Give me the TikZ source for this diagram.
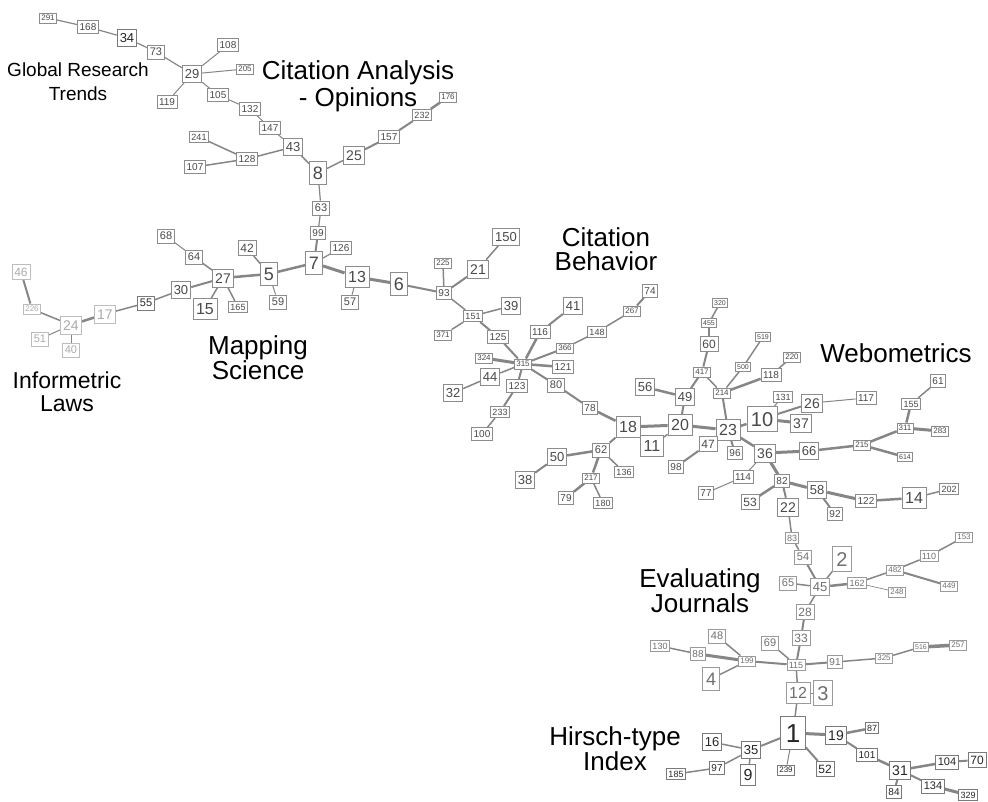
\documentclass[tikz,border=0pt]{standalone}
\usepackage{fontspec}
\setmainfont{Liberation Sans}
\usetikzlibrary{backgrounds}
\definecolor{bd}{HTML}{8C8C8C}
\definecolor{tx}{HTML}{4A4A4A}
\definecolor{txd}{HTML}{262626}
\definecolor{bdd}{HTML}{7A7A7A}
\definecolor{txl}{HTML}{707070}
\definecolor{bdl}{HTML}{9A9A9A}
\definecolor{txll}{HTML}{ABABAB}
\definecolor{bdll}{HTML}{BDBDBD}
\definecolor{edc}{HTML}{868686}
\tikzset{
  nd/.style={draw=bd, line width=0.7pt, fill=white, text=tx, inner xsep={0.2*#1}, inner ysep={0.28*#1},
    text height={0.72*#1}, text depth=0pt, font=\fontsize{#1}{#1}\selectfont},
  dk/.style={text=txd, draw=bdd},
  lt/.style={text=txl, draw=bdl},
  ll/.style={text=txll, draw=bdll},
  lnk/.style={draw=edc, line width=#1},
  lab/.style 2 args={align=center, text=black, font=\fontsize{#1}{#2}\selectfont}
}
\begin{document}
\begin{tikzpicture}[x=1pt,y=-1pt]
\useasboundingbox (0,0) rectangle (988,801);
% ---- nodes ----
\node[nd=8] (n291) at (48,18) {291};
\node[nd=10] (n168) at (88,27) {168};
\node[nd=13,dk] (n34) at (127,38) {34};
\node[nd=11] (n73) at (156,52) {73};
\node[nd=13] (n29) at (192,74) {29};
\node[nd=10] (n108) at (228,45) {108};
\node[nd=8] (n205) at (245,69) {205};
\node[nd=10] (n119) at (167,102) {119};
\node[nd=10] (n105) at (218,95) {105};
\node[nd=10] (n132) at (250,109) {132};
\node[nd=10] (n147) at (270,128) {147};
\node[nd=13] (n43) at (293,147) {43};
\node[nd=9] (n241) at (199,137) {241};
\node[nd=10] (n128) at (247,159) {128};
\node[nd=10] (n107) at (195,167) {107};
\node[nd=18] (n8) at (318,173) {8};
\node[nd=14] (n25) at (354,155) {25};
\node[nd=10] (n157) at (389,137) {157};
\node[nd=9] (n232) at (422,115) {232};
\node[nd=8] (n176) at (448,97) {176};
\node[nd=11] (n63) at (321,208) {63};
\node[nd=10] (n99) at (318,233) {99};
\node[nd=18] (n7) at (314,263) {7};
\node[nd=10] (n126) at (341,248) {126};
\node[nd=12] (n42) at (247,248) {42};
\node[nd=18] (n5) at (269,274) {5};
\node[nd=11] (n59) at (278,302) {59};
\node[nd=11] (n68) at (166,236) {68};
\node[nd=11] (n64) at (194,257) {64};
\node[nd=14] (n27) at (223,278) {27};
\node[nd=13] (n30) at (181,290) {30};
\node[nd=16] (n15) at (205,309) {15};
\node[nd=9] (n165) at (238,307) {165};
\node[nd=16] (n13) at (357,277) {13};
\node[nd=11] (n57) at (350,302) {57};
\node[nd=18] (n6) at (399,284) {6};
\node[nd=10] (n93) at (444,293) {93};
\node[nd=8] (n225) at (443,263) {225};
\node[nd=9] (n151) at (473,316) {151};
\node[nd=8] (n371) at (443,335) {371};
\node[nd=12,ll] (n46) at (21,272) {46};
\node[nd=8,ll] (n226) at (32,309) {226};
\node[nd=14,ll] (n24) at (71,325) {24};
\node[nd=11,ll] (n51) at (40,339) {51};
\node[nd=11,ll] (n40) at (71,350) {40};
\node[nd=14,ll] (n17) at (105,314) {17};
\node[nd=11,dk] (n55) at (146,303) {55};
\node[nd=13] (n150) at (506,237) {150};
\node[nd=14] (n21) at (478,269) {21};
\node[nd=13] (n39) at (511,306) {39};
\node[nd=10] (n125) at (498,337) {125};
\node[nd=10] (n116) at (540,332) {116};
\node[nd=13] (n41) at (573,306) {41};
\node[nd=10] (n74) at (650,291) {74};
\node[nd=8] (n267) at (632,311) {267};
\node[nd=9] (n148) at (597,332) {148};
\node[nd=8] (n366) at (565,348) {366};
\node[nd=8] (n324) at (484,358) {324};
\node[nd=8] (n315) at (523,364) {315};
\node[nd=10] (n121) at (563,367) {121};
\node[nd=13] (n44) at (490,377) {44};
\node[nd=13] (n32) at (453,393) {32};
\node[nd=10] (n123) at (517,386) {123};
\node[nd=11] (n80) at (556,385) {80};
\node[nd=10] (n78) at (590,408) {78};
\node[nd=9] (n233) at (500,412) {233};
\node[nd=10] (n100) at (482,434) {100};
\node[nd=16] (n18) at (628,427) {18};
\node[nd=11] (n62) at (601,450) {62};
\node[nd=13] (n50) at (557,457) {50};
\node[nd=13] (n38) at (525,480) {38};
\node[nd=9] (n136) at (624,472) {136};
\node[nd=8] (n217) at (591,478) {217};
\node[nd=10] (n79) at (566,498) {79};
\node[nd=9] (n180) at (603,503) {180};
\node[nd=13] (n56) at (645,387) {56};
\node[nd=7] (n320) at (720,303) {320};
\node[nd=7] (n455) at (709,323) {455};
\node[nd=12] (n60) at (709,344) {60};
\node[nd=7] (n519) at (763,337) {519};
\node[nd=8] (n220) at (792,357) {220};
\node[nd=7] (n500) at (743,367) {500};
\node[nd=10] (n118) at (771,375) {118};
\node[nd=8] (n417) at (702,372) {417};
\node[nd=8] (n214) at (722,393) {214};
\node[nd=13] (n49) at (685,397) {49};
\node[nd=9] (n131) at (783,397) {131};
\node[nd=14] (n26) at (812,403) {26};
\node[nd=10] (n117) at (866,398) {117};
\node[nd=20] (n10) at (762,419) {10};
\node[nd=14] (n37) at (801,423) {37};
\node[nd=16] (n20) at (680,425) {20};
\node[nd=16] (n23) at (728,430) {23};
\node[nd=16] (n11) at (652,446) {11};
\node[nd=12] (n47) at (708,444) {47};
\node[nd=10] (n96) at (735,453) {96};
\node[nd=14] (n36) at (765,453) {36};
\node[nd=13] (n66) at (809,451) {66};
\node[nd=8] (n215) at (862,445) {215};
\node[nd=8] (n311) at (905,428) {311};
\node[nd=8] (n283) at (940,431) {283};
\node[nd=7] (n614) at (905,457) {614};
\node[nd=9] (n155) at (911,404) {155};
\node[nd=10] (n61) at (938,381) {61};
\node[nd=10] (n98) at (676,467) {98};
\node[nd=10] (n114) at (743,477) {114};
\node[nd=10] (n77) at (706,493) {77};
\node[nd=10] (n82) at (782,481) {82};
\node[nd=12] (n53) at (750,502) {53};
\node[nd=14] (n22) at (788,507) {22};
\node[nd=13] (n58) at (817,490) {58};
\node[nd=10] (n92) at (835,514) {92};
\node[nd=10] (n122) at (866,501) {122};
\node[nd=16] (n14) at (914,498) {14};
\node[nd=9] (n202) at (949,489) {202};
\node[nd=9,lt] (n83) at (792,538) {83};
\node[nd=11,lt] (n54) at (803,557) {54};
\node[nd=20,lt] (n2) at (842,559) {2};
\node[nd=11,lt] (n65) at (788,583) {65};
\node[nd=13,lt] (n45) at (820,587) {45};
\node[nd=9,lt] (n162) at (857,583) {162};
\node[nd=8,lt] (n248) at (897,592) {248};
\node[nd=8,lt] (n482) at (895,570) {482};
\node[nd=9,lt] (n110) at (929,556) {110};
\node[nd=8,lt] (n153) at (964,537) {153};
\node[nd=8,lt] (n449) at (949,586) {449};
\node[nd=12,lt] (n28) at (805,612) {28};
\node[nd=12,lt] (n33) at (801,638) {33};
\node[nd=9,lt] (n130) at (660,646) {130};
\node[nd=11,lt] (n48) at (717,636) {48};
\node[nd=10,lt] (n88) at (698,654) {88};
\node[nd=8,lt] (n199) at (747,661) {199};
\node[nd=11,lt] (n69) at (770,643) {69};
\node[nd=9,lt] (n115) at (796,665) {115};
\node[nd=10,lt] (n91) at (835,662) {91};
\node[nd=8,lt] (n325) at (884,658) {325};
\node[nd=7,lt] (n516) at (921,647) {516};
\node[nd=8,lt] (n257) at (958,645) {257};
\node[nd=18,lt] (n4) at (711,679) {4};
\node[nd=16,lt] (n12) at (798,693) {12};
\node[nd=20,lt] (n3) at (823,693) {3};
\node[nd=26,dk] (n1) at (793,733) {1};
\node[nd=14,dk] (n19) at (836,735) {19};
\node[nd=9,dk] (n87) at (872,728) {87};
\node[nd=13,dk] (n16) at (712,742) {16};
\node[nd=13,dk] (n35) at (751,750) {35};
\node[nd=10,dk] (n101) at (867,755) {101};
\node[nd=10,dk] (n97) at (717,768) {97};
\node[nd=9,dk] (n185) at (676,774) {185};
\node[nd=16,dk] (n9) at (748,775) {9};
\node[nd=8,dk] (n239) at (786,770) {239};
\node[nd=12,dk] (n52) at (825,769) {52};
\node[nd=14,dk] (n31) at (900,770) {31};
\node[nd=11,dk] (n104) at (947,762) {104};
\node[nd=12,dk] (n70) at (977,760) {70};
\node[nd=10,dk] (n84) at (894,792) {84};
\node[nd=11,dk] (n134) at (933,786) {134};
\node[nd=9,dk] (n329) at (968,795) {329};
% ---- labels ----
\node[lab={19}{24}] (lgrt) at (78,82) {Global Research\\Trends};
\node[lab={26}{27}] (lcao) at (358,86) {Citation Analysis\\- Opinions};
\node[lab={26}{24}] (lms) at (258,358) {Mapping\\Science};
\node[lab={23}{23}] (lil) at (67,392) {Informetric\\Laws};
\node[lab={26}{24}] (lcb) at (606,249) {Citation\\Behavior};
\node[lab={26}{24}] (lweb) at (896,353) {Webometrics};
\node[lab={26}{24}] (lej) at (700,591) {Evaluating\\Journals};
\node[lab={26}{24}] (lhi) at (615,749) {Hirsch-type\\Index};
% ---- edges ----
\begin{scope}[on background layer]
\fill[white] (0,0) rectangle (988,801);
\draw[lnk=1.2] (n291)--(n168); \draw[lnk=1.2] (n168)--(n34); \draw[lnk=1.2] (n34)--(n73); \draw[lnk=1.2] (n73)--(n29);
\draw[lnk=1] (n29)--(n108); \draw[lnk=1] (n29)--(n205); \draw[lnk=1] (n29)--(n119); \draw[lnk=1] (n29)--(n105);
\draw[lnk=1] (n105)--(n132); \draw[lnk=1] (n132)--(n147); \draw[lnk=1] (n147)--(n43);
\draw[lnk=1.5] (n43)--(n128); \draw[lnk=1.5] (n128)--(n241); \draw[lnk=1.5] (n128)--(n107);
\draw[lnk=1.5] (n43)--(n8); \draw[lnk=1.5] (n8)--(n25); \draw[lnk=2] (n25)--(n157); \draw[lnk=2] (n157)--(n232); \draw[lnk=2.5] (n232)--(n176);
\draw[lnk=1.2] (n8)--(n63); \draw[lnk=1.2] (n63)--(n99); \draw[lnk=2] (n99)--(n7); \draw[lnk=1.2] (n7)--(n126);
\draw[lnk=2.5] (n7)--(n5); \draw[lnk=3] (n7)--(n13); \draw[lnk=1] (n13)--(n57); \draw[lnk=3] (n13)--(n6);
\draw[lnk=2] (n6)--(n93); \draw[lnk=1.5] (n93)--(n225); \draw[lnk=2] (n93)--(n21); \draw[lnk=1.5] (n21)--(n150);
\draw[lnk=1.5] (n93)--(n151); \draw[lnk=1.5] (n151)--(n39); \draw[lnk=1.5] (n151)--(n371); \draw[lnk=2] (n151)--(n125);
\draw[lnk=2] (n125)--(n315); \draw[lnk=2.5] (n315)--(n116); \draw[lnk=2] (n116)--(n41);
\draw[lnk=2] (n315)--(n366); \draw[lnk=1.5] (n366)--(n148); \draw[lnk=1.5] (n148)--(n267); \draw[lnk=2] (n267)--(n74);
\draw[lnk=3] (n315)--(n324); \draw[lnk=2.5] (n315)--(n121); \draw[lnk=1.5] (n315)--(n44); \draw[lnk=1.5] (n44)--(n32);
\draw[lnk=2] (n315)--(n123); \draw[lnk=2] (n123)--(n233); \draw[lnk=1.5] (n233)--(n100);
\draw[lnk=2] (n315)--(n80); \draw[lnk=2] (n80)--(n78); \draw[lnk=2.5] (n78)--(n18);
\draw[lnk=1.5] (n5)--(n42); \draw[lnk=1] (n5)--(n59); \draw[lnk=2.5] (n5)--(n27);
\draw[lnk=1.5] (n27)--(n64); \draw[lnk=1] (n64)--(n68); \draw[lnk=2] (n27)--(n30); \draw[lnk=1.5] (n27)--(n15); \draw[lnk=1.5] (n27)--(n165);
\draw[lnk=1.5] (n30)--(n55); \draw[lnk=1.5] (n55)--(n17); \draw[lnk=2.5] (n17)--(n24);
\draw[lnk=1.5] (n24)--(n226); \draw[lnk=2] (n226)--(n46); \draw[lnk=1] (n24)--(n51); \draw[lnk=1] (n24)--(n40);
\draw[lnk=2] (n18)--(n62); \draw[lnk=2.5] (n62)--(n50); \draw[lnk=2] (n50)--(n38); \draw[lnk=1.5] (n62)--(n136);
\draw[lnk=2.5] (n62)--(n217); \draw[lnk=2.5] (n217)--(n79); \draw[lnk=1.5] (n217)--(n180);
\draw[lnk=3] (n18)--(n20); \draw[lnk=1.5] (n20)--(n11); \draw[lnk=2] (n20)--(n49); \draw[lnk=2.5] (n49)--(n56);
\draw[lnk=2] (n49)--(n417); \draw[lnk=2] (n417)--(n60); \draw[lnk=2] (n60)--(n455); \draw[lnk=1.5] (n455)--(n320);
\draw[lnk=1.5] (n417)--(n214); \draw[lnk=1.5] (n214)--(n500); \draw[lnk=1.5] (n500)--(n519);
\draw[lnk=2.5] (n214)--(n118); \draw[lnk=1.5] (n118)--(n220); \draw[lnk=2] (n214)--(n23);
\draw[lnk=3] (n20)--(n23); \draw[lnk=1.5] (n23)--(n47); \draw[lnk=2] (n47)--(n98); \draw[lnk=2] (n23)--(n96);
\draw[lnk=2.5] (n23)--(n10); \draw[lnk=1] (n10)--(n131); \draw[lnk=2] (n10)--(n26); \draw[lnk=1] (n26)--(n117); \draw[lnk=3] (n10)--(n37);
\draw[lnk=2.5] (n23)--(n36); \draw[lnk=3] (n36)--(n66); \draw[lnk=2.5] (n66)--(n215); \draw[lnk=2.5] (n215)--(n311);
\draw[lnk=2.5] (n311)--(n155); \draw[lnk=1.5] (n155)--(n61); \draw[lnk=3] (n311)--(n283); \draw[lnk=2.5] (n215)--(n614);
\draw[lnk=1] (n36)--(n114); \draw[lnk=1] (n114)--(n77); \draw[lnk=3] (n36)--(n82);
\draw[lnk=2.5] (n82)--(n53); \draw[lnk=3] (n82)--(n58); \draw[lnk=2] (n58)--(n92); \draw[lnk=3] (n58)--(n122);
\draw[lnk=2.5] (n122)--(n14); \draw[lnk=1.5] (n14)--(n202);
\draw[lnk=2] (n82)--(n22); \draw[lnk=1.5] (n22)--(n83); \draw[lnk=1.5] (n83)--(n54); \draw[lnk=2] (n54)--(n45);
\draw[lnk=1.5] (n45)--(n2); \draw[lnk=1.5] (n45)--(n65); \draw[lnk=2.5] (n45)--(n162);
\draw[lnk=1.5] (n162)--(n482); \draw[lnk=1.5] (n482)--(n110); \draw[lnk=1.5] (n110)--(n153); \draw[lnk=2] (n482)--(n449);
\draw[lnk=0.7] (n162)--(n248);
\draw[lnk=1.5] (n45)--(n28); \draw[lnk=2] (n28)--(n33); \draw[lnk=2] (n33)--(n115);
\draw[lnk=1.5] (n115)--(n69); \draw[lnk=2] (n115)--(n91); \draw[lnk=1.5] (n91)--(n325); \draw[lnk=1.5] (n325)--(n516); \draw[lnk=3.5] (n516)--(n257);
\draw[lnk=2] (n115)--(n199); \draw[lnk=3] (n199)--(n88); \draw[lnk=1.5] (n88)--(n130); \draw[lnk=1.5] (n199)--(n48); \draw[lnk=1.5] (n199)--(n4);
\draw[lnk=1.5] (n115)--(n12); \draw[lnk=1] (n12)--(n3); \draw[lnk=1.5] (n12)--(n1);
\draw[lnk=3] (n1)--(n19); \draw[lnk=2.5] (n19)--(n87); \draw[lnk=2] (n19)--(n101); \draw[lnk=2.5] (n101)--(n31);
\draw[lnk=2.5] (n31)--(n104); \draw[lnk=2] (n104)--(n70); \draw[lnk=2] (n31)--(n84); \draw[lnk=2] (n31)--(n134); \draw[lnk=3] (n134)--(n329);
\draw[lnk=2] (n1)--(n52); \draw[lnk=1] (n1)--(n239); \draw[lnk=2] (n1)--(n35);
\draw[lnk=1.5] (n35)--(n16); \draw[lnk=1.5] (n35)--(n97); \draw[lnk=1.5] (n97)--(n185); \draw[lnk=1.5] (n35)--(n9);
\end{scope}
\end{tikzpicture}
\end{document}
